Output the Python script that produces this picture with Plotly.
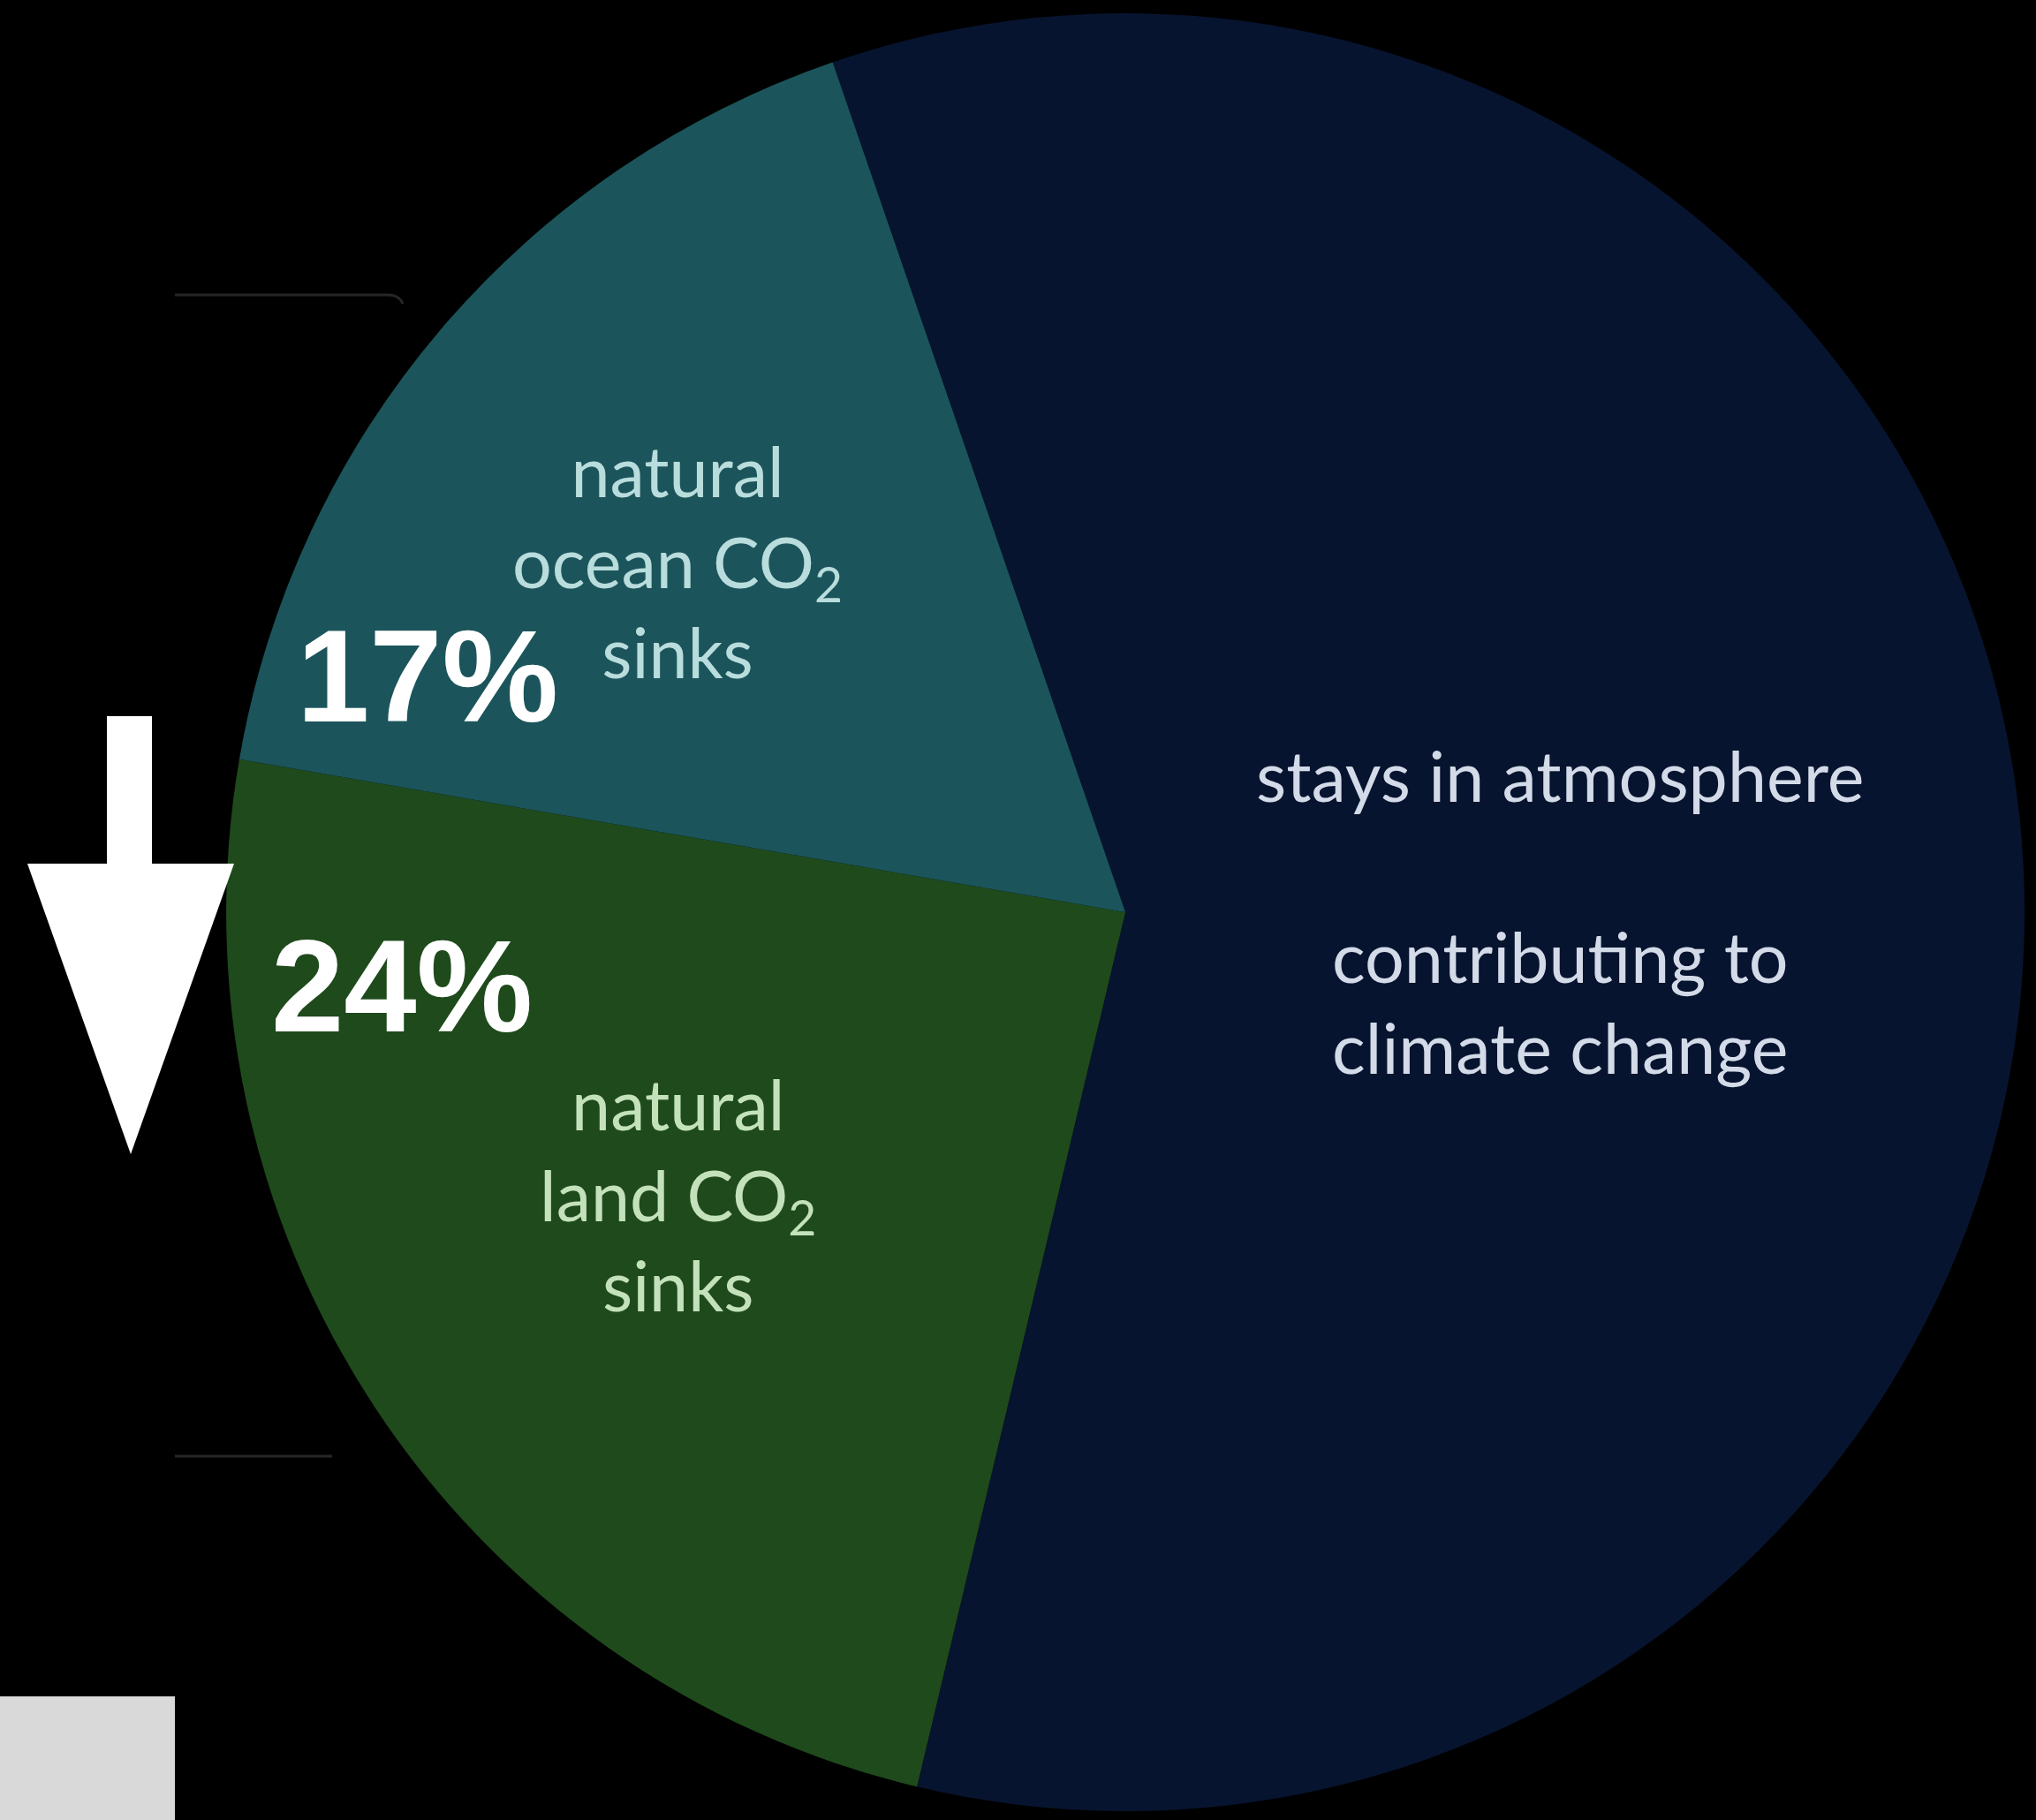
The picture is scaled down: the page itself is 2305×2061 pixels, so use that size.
import plotly.graph_objects as go

# ---- data ----
labels = ["stays in atmosphere", "natural land CO2 sinks", "natural ocean CO2 sinks"]
values = [59, 24, 17]
colors = ["#07142f", "#1f4a1c", "#1b555b"]

pct_labels = ["17%", "24%"]
slice_texts = [
    "natural<br>ocean CO<sub>2</sub><br>sinks",
    "natural<br>land CO<sub>2</sub><br>sinks",
    "stays in atmosphere<br><br>contributing to<br>climate change",
]
slice_text_colors = ["#b9dcdc", "#c3e2bb", "#d3dae8"]

W, H = 2305, 2061

fig = go.Figure()
fig.add_trace(go.Pie(
    labels=labels, values=values, sort=False, direction="clockwise",
    rotation=-19, hole=0,
    marker=dict(colors=colors, line=dict(width=0)),
    textinfo="none", hoverinfo="label+percent", showlegend=False,
    domain=dict(x=[0.1111, 0.9944], y=[0.00485, 0.99272]),
))

def px(x):
    return x / W

def py(y):
    return 1 - y / H

annots = []
# slice descriptions
for txt, col, (x, y) in zip(slice_texts, slice_text_colors,
                            [(767, 635), (767, 1352), (1767, 1031)]):
    annots.append(dict(x=px(x), y=py(y), xref="paper", yref="paper", text=txt,
                       showarrow=False, xanchor="center", yanchor="middle",
                       align="center",
                       font=dict(family="Lato, Open Sans, sans-serif", size=79, color=col)))
# percentages
for txt, (x, y) in zip(pct_labels, [(484, 765), (455, 1116)]):
    annots.append(dict(x=px(x), y=py(y), xref="paper", yref="paper",
                       text="<b>" + txt + "</b>", showarrow=False,
                       xanchor="center", yanchor="middle",
                       font=dict(family="Liberation Sans, Arial, sans-serif", size=148, color="#ffffff")))

shapes = [
    # down arrow
    dict(type="path", xref="x", yref="y",
         path="M 121 811 L 172 811 L 172 978 L 265 978 L 148 1307 L 31 978 L 121 978 Z",
         fillcolor="#ffffff", line=dict(width=0)),
    # grey box bottom-left
    dict(type="rect", xref="x", yref="y", x0=0, x1=198, y0=1921, y1=2061,
         fillcolor="#d9d9d9", line=dict(width=0)),
    # faint bracket lines
    dict(type="path", xref="x", yref="y", path="M 198 334 L 440 334 Q 452 334 456 344",
         line=dict(color="#262626", width=3)),
    dict(type="line", xref="x", yref="y", x0=198, x1=376, y0=1649, y1=1649,
         line=dict(color="#262626", width=3)),
]

fig.update_layout(
    width=W, height=H, margin=dict(l=0, r=0, t=0, b=0),
    paper_bgcolor="#000000", plot_bgcolor="rgba(0,0,0,0)",
    xaxis=dict(range=[0, W], visible=False, domain=[0, 1], fixedrange=True),
    yaxis=dict(range=[H, 0], visible=False, domain=[0, 1], fixedrange=True),
    annotations=annots, shapes=shapes, showlegend=False,
)

fig.write_html(
    "out.html",
    config={"displayModeBar": False},
    post_script="document.body.style.margin='0';document.body.style.background='#000';",
)
